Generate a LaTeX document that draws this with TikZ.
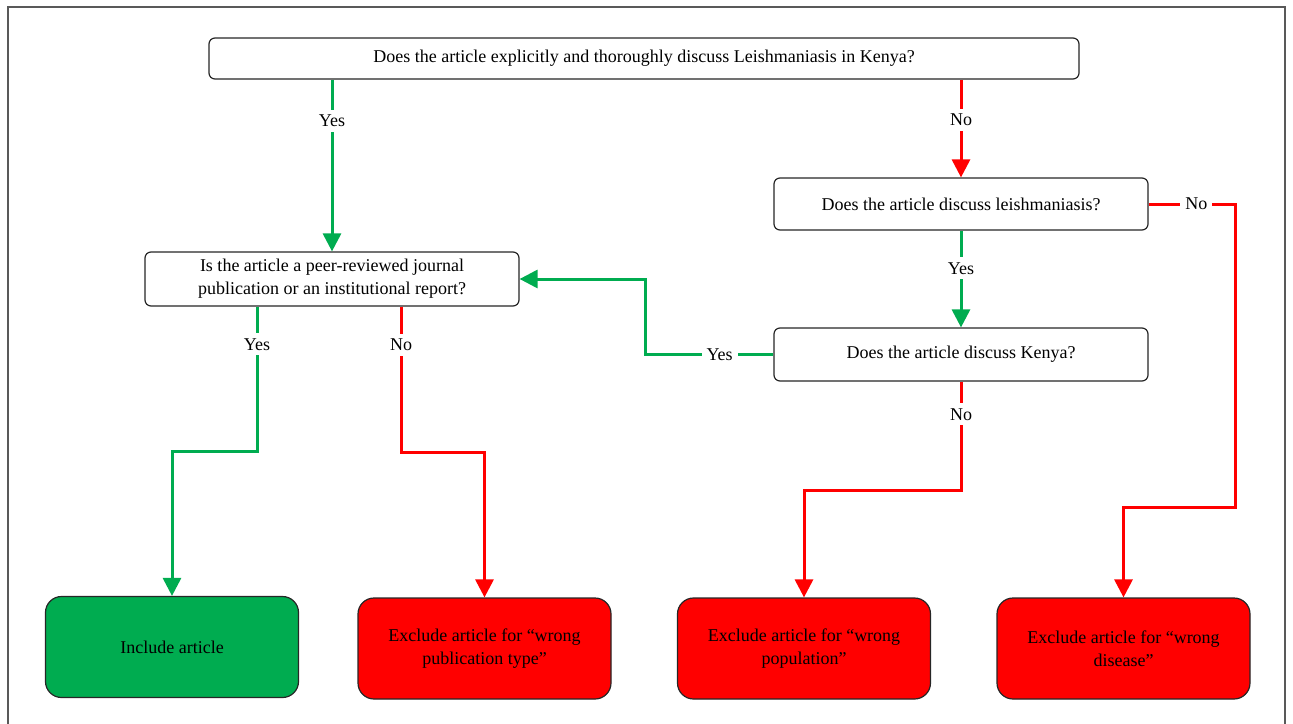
\documentclass[tikz,border=0pt]{standalone}
\usepackage{fontspec}
\setmainfont{Liberation Serif}
\usepackage{tikz}
\usetikzlibrary{arrows.meta,positioning,calc}

\definecolor{yesgreen}{RGB}{0,172,80}
\definecolor{nored}{RGB}{255,0,0}

\tikzstyle{question} = [draw=black!85, fill=white, line width=1.2pt,
    rectangle, rounded corners=6pt, align=center, inner sep=0pt]
\tikzstyle{outcome} = [draw=black!85, line width=1.2pt, rectangle, rounded corners=16pt,
    minimum width=253pt, minimum height=101pt, align=center, inner sep=0pt]
\tikzstyle{include} = [outcome, fill=yesgreen]
\tikzstyle{exclude} = [outcome, fill=nored]
\tikzstyle{yesline} = [draw=yesgreen, line width=3pt]
\tikzstyle{noline} = [draw=nored, line width=3pt]
\tikzstyle{arrow} = [-{Triangle[length=18pt,width=18pt]}]
\tikzstyle{answer} = [fill=white, inner sep=5pt]

\begin{document}
\begin{tikzpicture}[x=1pt, y=-1pt, every node/.style={font=\fontsize{18}{23}\selectfont}]
\useasboundingbox (0,0) rectangle (1293,723);
\draw[black!65, line width=1.2pt] (8,740) -- (8,7) -- (1285,7) -- (1285,740);

% questions
\node[question, minimum width=870pt, minimum height=41pt] (kenyaleish) at (644,58.5)
    {Does the article explicitly and thoroughly discuss Leishmaniasis in Kenya?};
\node[question, minimum width=374pt, minimum height=52pt] (leish) at (961,204)
    {Does the article discuss leishmaniasis?};
\node[question, minimum width=374pt, minimum height=53pt] (kenya) at (961,354.5)
    {Does the article discuss Kenya?};
\node[question, minimum width=374pt, minimum height=54pt] (pubtype) at (332,279)
    {Is the article a peer-reviewed journal\\publication or an institutional report?};

% outcomes
\node[include] (incl) at (172,647) {Include article};
\node[exclude] (wrongpub) at (484.5,648.5) {Exclude article for ``wrong\\publication type''};
\node[exclude] (wrongpop) at (804,648.5) {Exclude article for ``wrong\\population''};
\node[exclude] (wrongdis) at (1123.5,648.5) {Exclude article for ``wrong\\disease''};

% connectors
\draw[yesline, arrow] (kenyaleish.south -| pubtype.north) -- node[answer, pos=0.24]{Yes} (pubtype.north);
\draw[noline, arrow] (kenyaleish.south -| leish.north) -- node[answer, pos=0.41]{No} (leish.north);
\draw[noline, arrow] (leish.east) -- node[answer, pos=0.55]{No} ++(87,0) |- ++(0,303) -| (wrongdis.north);
\draw[yesline, arrow] (leish.south) -- node[answer, pos=0.39]{Yes} (kenya.north);
\draw[yesline, arrow] (kenya.west) -- node[answer, pos=0.42]{Yes} ++(-128,0) |- (pubtype.east);
\draw[noline, arrow] (kenya.south) -- node[answer, pos=0.3]{No} ++(0,109) -| (wrongpop.north);
\draw[yesline, arrow] ($(pubtype.south)+(-75,0)$) -- node[answer, pos=0.26]{Yes} ++(0,145) -| (incl.north);
\draw[noline, arrow] ($(pubtype.south)+(69,0)$) -- node[answer, pos=0.26]{No} ++(0,146) -| (wrongpub.north);
\end{tikzpicture}
\end{document}
